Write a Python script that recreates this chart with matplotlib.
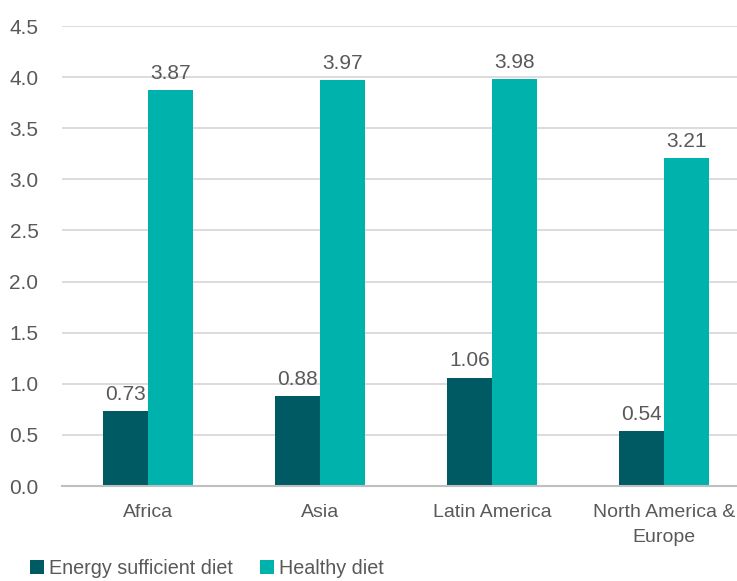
import matplotlib.pyplot as plt
import numpy as np

plt.rcParams['font.family'] = ['Liberation Sans', 'DejaVu Sans']

regions = ['Africa', 'Asia', 'Latin America', 'North America &\nEurope']
energy = [0.73, 0.88, 1.06, 0.54]
healthy = [3.87, 3.97, 3.98, 3.21]
yticks = [0.0, 0.5, 1.0, 1.5, 2.0, 2.5, 3.0, 3.5, 4.0, 4.5]

dark = '#005a64'
teal = '#00b2ac'
grey = '#595959'

fig = plt.figure(figsize=(7.37, 5.81), dpi=100)
ax = fig.add_axes([62 / 737, 1 - 486 / 581, 688 / 737, 460 / 581])

x = np.arange(len(regions))
w = 0.262
b1 = ax.bar(x - w / 2, energy, w, color=dark, label='Energy sufficient diet', zorder=3)
b2 = ax.bar(x + w / 2, healthy, w, color=teal, label='Healthy diet', zorder=3)

for bars, vals in [(b1, energy), (b2, healthy)]:
    for r, v in zip(bars, vals):
        ax.text(r.get_x() + r.get_width() / 2, v + 0.07, f'{v:.2f}',
                ha='center', va='bottom', fontsize=15, color=grey)

ax.set_xlim(-0.5, 3.5)
ax.set_ylim(0, 4.5)
ax.set_yticks(yticks)
ax.set_yticklabels([f'{t:.1f}' for t in yticks])
ax.set_xticks(x)
ax.set_xticklabels(regions, linespacing=1.6)
ax.tick_params(axis='both', length=0, labelsize=14, colors=grey)
ax.tick_params(axis='y', labelsize=15, pad=17)
ax.tick_params(axis='x', pad=13)
ax.yaxis.grid(True, color='#d9d9d9', linewidth=1.3, zorder=0)
for s in ['top', 'right', 'left']:
    ax.spines[s].set_visible(False)
ax.spines['bottom'].set_color('#bfbfbf')
ax.spines['bottom'].set_linewidth(1.5)
ax.spines['bottom'].set_zorder(4)

leg = fig.legend(loc='lower left', bbox_to_anchor=(22 / 737, -0.008), ncol=2,
                 frameon=False, fontsize=14.2, handlelength=0.7, handleheight=0.7,
                 handletextpad=0.25, columnspacing=1.4, borderaxespad=0)
for t in leg.get_texts():
    t.set_color(grey)

fig.savefig('out.png', dpi=100)
